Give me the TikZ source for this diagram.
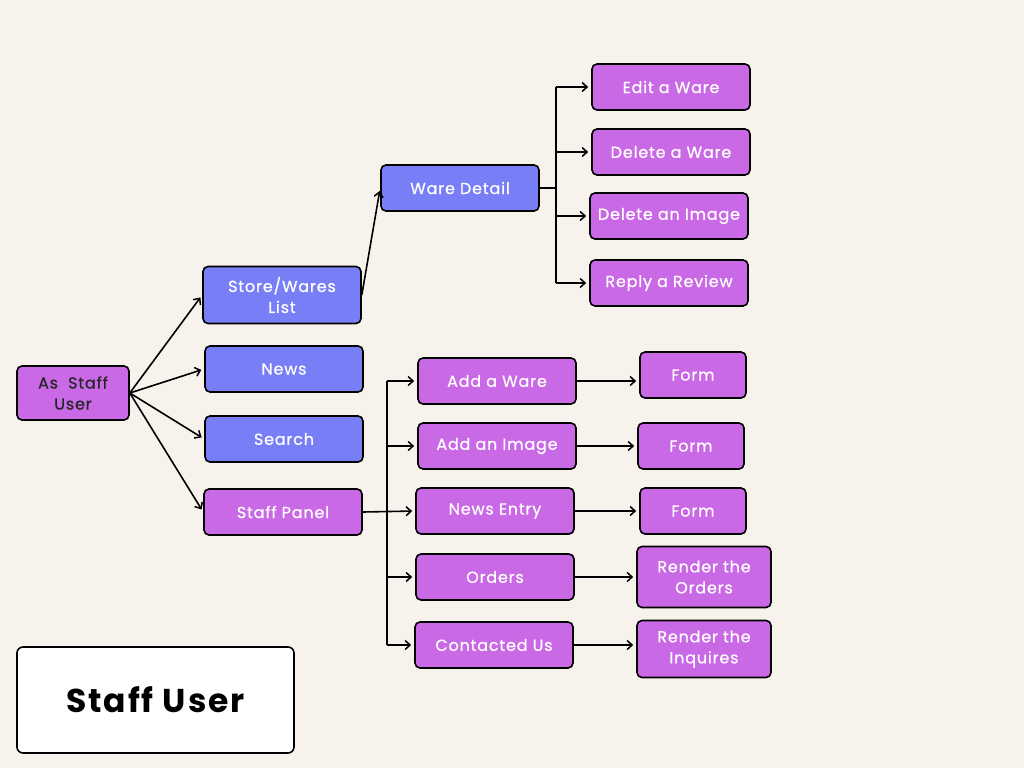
\documentclass[tikz,border=0pt]{standalone}
\usepackage{fontspec}
\setmainfont{Poppins}[LetterSpace=5,FakeBold=0.6]
\newfontfamily\titlefont{Poppins}[LetterSpace=6]
\usetikzlibrary{arrows,arrows.meta}
\definecolor{bgcol}{HTML}{F7F3EC}
\definecolor{bluefill}{HTML}{777EF6}
\definecolor{purplefill}{HTML}{C969E6}

\begin{document}
\begin{tikzpicture}[x=1pt,y=-1pt,>={Straight Barb[length=5pt,width=9pt,line width=1.5pt]},
    box/.style={draw=black,line width=1.6pt,rounded corners=5pt,minimum width=158pt,
      minimum height=46pt,text=white,font=\fontsize{16}{21}\selectfont,align=center,inner sep=2pt},
    wbox/.style={box,fill=bluefill},
    pbox/.style={box,fill=purplefill},
    link/.style={->,line width=1.6pt,shorten >=3pt}]
      \useasboundingbox (0,0) rectangle (1024,768);
      \fill[bgcol] (0,0) rectangle (1024,768);

      % left column
      \node[pbox,minimum width=112pt,minimum height=54pt,text=black!85] (user) at (73,393) {As\ \ Staff\\User};
      \node[wbox,minimum height=57pt] (store) at (282,295) {Store/Wares\\List};
      \node[wbox] (news) at (284,369) {News};
      \node[wbox] (search) at (284,439) {Search};
      \node[pbox] (panel) at (283,512) {Staff Panel};

      % ware detail branch
      \node[wbox] (detail) at (460,188) {Ware Detail};
      \node[pbox] (edit) at (671,87) {Edit a Ware};
      \node[pbox] (delware) at (671,152) {Delete a Ware};
      \node[pbox] (delimg) at (669,216) {Delete an Image};
      \node[pbox] (reply) at (669,283) {Reply a Review};

      % staff panel branch
      \node[pbox] (addware) at (497,381) {Add a Ware};
      \node[pbox] (addimg) at (497,446) {Add an Image};
      \node[pbox] (entry) at (495,511) {News Entry};
      \node[pbox] (orders) at (495,577) {Orders};
      \node[pbox] (contact) at (494,645) {Contacted Us};

      \node[pbox,minimum width=106pt] (form1) at (693,375) {Form};
      \node[pbox,minimum width=106pt] (form2) at (691,446) {Form};
      \node[pbox,minimum width=106pt] (form3) at (693,511) {Form};
      \node[pbox,minimum width=134pt,minimum height=61pt] (rorders) at (704,577) {Render the\\Orders};
      \node[pbox,minimum width=134pt,minimum height=57pt] (rinq) at (704,649) {Render the\\Inquires};

      \node[draw=black,fill=white,rounded corners=6pt,line width=1.6pt,minimum width=277pt,
        minimum height=106pt,font=\titlefont\bfseries\fontsize{33}{40}\selectfont] (title) at (155.5,700) {Staff User};

      \coordinate (dsplit) at ([xshift=16pt]detail.east);
      \coordinate (psplit) at ([xshift=24pt]panel.east);

      \path[link]
      (user.east) edge (store.west)
      (user.east) edge (news.west)
      (user.east) edge (search.west)
      (user.east) edge (panel.west)
      (store.east) edge (detail.west)
      ;

      \draw[line width=1.6pt] (detail.east) -- (dsplit);
      \draw[line width=1.6pt] (dsplit |- edit) -- (dsplit |- reply);
      \path[link]
      (dsplit |- edit) edge (edit.west)
      (dsplit |- delware) edge (delware.west)
      (dsplit |- delimg) edge (delimg.west)
      (dsplit |- reply) edge (reply.west)
      ;

      \draw[line width=1.6pt] (psplit |- addware) -- (psplit |- contact);
      \path[link]
      (panel.east) edge (entry.west)
      (psplit |- addware) edge (addware.west)
      (psplit |- addimg) edge (addimg.west)
      (psplit |- orders) edge (orders.west)
      (psplit |- contact) edge (contact.west)
      ;

      \path[link]
      (addware.east) edge (addware.east -| form1.west)
      (addimg.east) edge (addimg.east -| form2.west)
      (entry.east) edge (entry.east -| form3.west)
      (orders.east) edge (orders.east -| rorders.west)
      (contact.east) edge (contact.east -| rinq.west)
      ;
\end{tikzpicture}
\end{document}
